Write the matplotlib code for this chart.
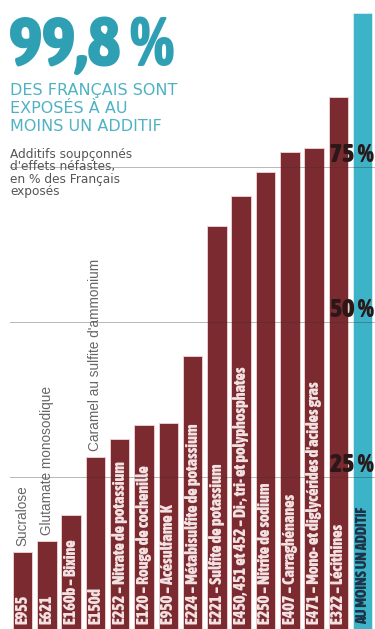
import matplotlib.pyplot as plt
from matplotlib import font_manager
from matplotlib.transforms import blended_transform_factory

# Additifs soupconnes d'effets nefastes, en % des Francais exposes
codes = [
    "E955", "E621", "E160b – Bixine", "E150d",
    "E252 – Nitrate de potassium", "E120 – Rouge de cochenille",
    "E950 – Acésulfame K", "E224 – Métabisulfite de potassium",
    "E221 – Sulfite de potassium",
    "E450, 451 et 452 – Di-, tri- et polyphosphates",
    "E250 – Nitrite de sodium", "E407 – Carraghénanes",
    "E471 – Mono- et diglycérides d'acides gras", "E322 – Lécithines",
]
names_above = [
    "Sucralose", "Glutamate monosodique", "", "Caramel au sulfite d'ammonium",
    "", "", "", "", "", "", "", "", "", "",
]
values = [12.9, 14.7, 18.9, 28.2, 31.1, 33.4, 33.7, 44.5, 65.5, 70.3,
          74.2, 77.4, 78.1, 86.3]
total_label = "AU MOINS UN ADDITIF"
total_value = 99.8
grid_levels = [25, 50, 75]

brown = '#7b2a30'
teal = '#2f9fb4'
blue = '#3db3c7'

# look for a narrow font with a bold face, the original uses a condensed bold
fonts = font_manager.fontManager.ttflist
cond = [f for f in fonts if 'Narrow' in f.name or 'Condensed' in f.name
        or (f.stretch not in ('normal', 500) and 'DejaVu' not in f.name)]
bold_cond = [f for f in cond if (f.weight if isinstance(f.weight, int) else 400) >= 600
             or f.weight in ('bold', 'heavy', 'black', 'semibold', 'demibold')]
pick = bold_cond[0] if bold_cond else (cond[0] if cond else None)
if pick is not None:
    narrow = [pick.name, 'DejaVu Sans']
    stretch = pick.stretch
    nweight = pick.weight
else:
    narrow = ['DejaVu Sans']
    stretch = 'condensed'
    nweight = 'bold'

W, H = 375, 629
fig = plt.figure(figsize=(W / 100, H / 100), dpi=100)
fig.patch.set_facecolor('white')
renderer = fig.canvas.get_renderer()


def fit(t, size, along='width'):
    # scale a text so that its extent is about `size` pixels
    bb = t.get_window_extent(renderer)
    cur = bb.width if along == 'width' else bb.height
    t.set_fontsize(t.get_fontsize() * size / cur)
    return t.get_fontsize()


# axes: 0 % sits a few pixels below the bottom edge (bars are cut off)
ax = fig.add_axes([10.35 / W, 0, 364.5 / W, 617 / H])
ax.set_xlim(-0.5, 14.5)
ax.set_ylim(0.48, 100)
ax.axis('off')

x = list(range(len(values)))
ax.bar(x, values, width=0.8, color=brown, edgecolor='#f2d6d6', linewidth=0.6, zorder=2)
ax.bar([len(values)], [total_value], width=0.8, color=blue, edgecolor='#d6eef2',
       linewidth=0.6, zorder=2)

for lvl in grid_levels:
    ax.axhline(lvl, color='#3a3030', lw=0.7, alpha=0.35, zorder=3)

# labels inside bars
probe = ax.text(0, 0, codes[9], rotation=90, fontsize=10, fontweight=nweight,
                family=narrow, fontstretch=stretch)
in_size = min(fit(probe, 262, along='height'), 11.5)
probe.remove()
for xi, code in zip(x, codes):
    ax.text(xi, 1.3, code, rotation=90, ha='center', va='bottom', color='#f4e2e2',
            fontsize=in_size, fontweight=nweight, family=narrow, fontstretch=stretch,
            zorder=4)
probe = ax.text(0, 0, names_above[3], rotation=90, fontsize=9,
                family=['Liberation Sans', 'DejaVu Sans'])
out_size = min(fit(probe, 192, along='height'), 10)
probe.remove()
for xi, v, name in zip(x, values, names_above):
    if name:
        ax.text(xi, v + 1.0, name, rotation=90, ha='center', va='bottom',
                color='#666666', fontsize=out_size,
                family=['Liberation Sans', 'DejaVu Sans'], zorder=4)
t = ax.text(len(values), 1.3, total_label, rotation=90, ha='center', va='bottom',
            color='#1c3348', fontsize=in_size, fontweight=nweight, family=narrow,
            fontstretch=stretch, zorder=4)
fit(t, 118, along='height')

# percentage marks
tr = blended_transform_factory(ax.transAxes, ax.transData)
for lvl in grid_levels:
    t = ax.text(0.998, lvl + 0.8, f"{lvl} %", transform=tr, ha='right', va='baseline',
                color='#2a1818', fontsize=14, fontweight=nweight, family=narrow,
                fontstretch=stretch, zorder=5)
    fit(t, 44)

# headline
t = fig.text(9 / W, 1 - 66 / H, "99,8 %", color=teal, fontsize=40, fontweight=nweight,
             family=narrow, fontstretch=stretch, ha='left', va='baseline')
fit(t, 165)
for i, line in enumerate(["DES FRANÇAIS SONT", "EXPOSÉS À AU", "MOINS UN ADDITIF"]):
    fig.text(10 / W, 1 - (95 + i * 18) / H, line, color='#4fb2c3', fontsize=11.5,
             family=['DejaVu Sans'], ha='left', va='baseline')
for i, line in enumerate(["Additifs soupçonnés", "d'effets néfastes,",
                          "en % des Français", "exposés"]):
    fig.text(10 / W, 1 - (158 + i * 12.4) / H, line, color='#555555', fontsize=8.7,
             family=['DejaVu Sans'], ha='left', va='baseline')

fig.savefig('out.png', dpi=100)
